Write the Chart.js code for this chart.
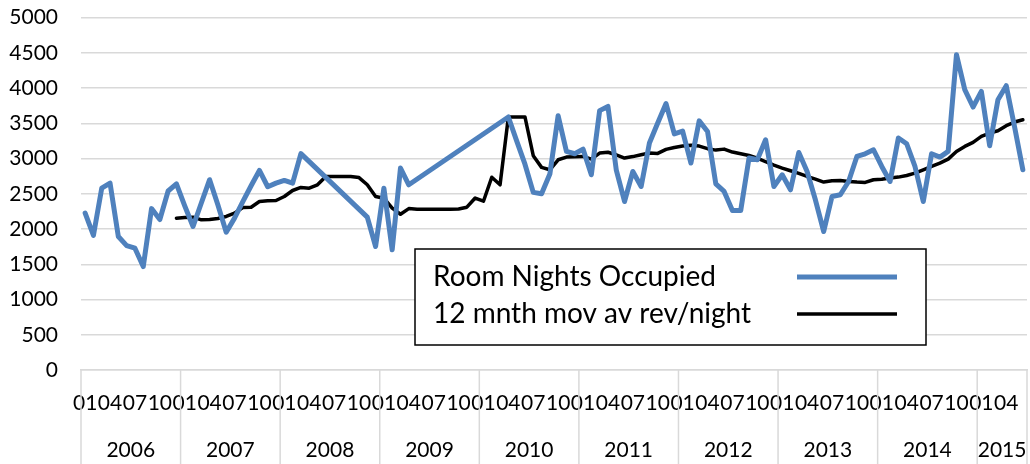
<!DOCTYPE html>
<html>
<head>
<meta charset="utf-8">
<script src="https://cdn.jsdelivr.net/npm/chart.js@4.4.1/dist/chart.umd.min.js"></script>
<style>
html,body{margin:0;padding:0;background:#fff;}
#wrap{width:1030px;height:464px;position:relative;}
</style>
</head>
<body>
<div id="wrap"><canvas id="c" width="1030" height="464"></canvas></div>
<script>
// ---------- data ----------
const years = ['2006','2007','2008','2009','2010','2011','2012','2013','2014','2015'];
const monthsPerYear = [12,12,12,12,12,12,12,12,12,6];
const monthTickLabels = ['01','04','07','10'];
const yTicks = [0,500,1000,1500,2000,2500,3000,3500,4000,4500,5000];

const roomNights = [
  2226,1910,2580,2652,1894,1765,1728,1468,2290,2135,2540,2640,
  2330,2036,2370,2700,2340,1955,2155,2390,2614,2831,2600,2651,
  2690,2651,3070,null,null,null,null,null,null,null,2169,1752,
  2580,1705,2865,2628,null,null,null,null,null,null,null,null,
  null,null,null,3590,3250,2920,2520,2500,2780,3608,3101,3068,
  3134,2770,3680,3740,2841,2391,2817,2604,3220,3504,3780,3350,
  3390,2936,3535,3385,2640,2533,2263,2263,3007,2983,3267,2604,
  2770,2557,3087,2817,2415,1965,2462,2486,2675,3030,3068,3125,
  2888,2675,3291,3210,2888,2391,3068,3021,3101,4474,3977,3731,
  3953,3182,3835,4034,3450,2841
];

const movAvg = [
  null,null,null,null,null,null,null,null,null,null,null,2154,
  2164,2168,2131,2135,2150,2178,2225,2306,2310,2391,2400,2405,
  2462,2547,2590,2580,2628,2746,2746,2746,2746,2730,2628,2462,
  2438,2296,2210,2290,2282,2282,2282,2282,2282,2285,2310,2440,
  2395,2735,2628,3590,3590,3590,3040,2875,2841,2983,3021,3025,
  3030,2992,3078,3090,3054,3007,3028,3054,3078,3073,3130,3158,
  3178,3190,3177,3140,3120,3134,3092,3068,3044,3007,2955,2907,
  2865,2827,2789,2746,2708,2666,2685,2689,2675,2666,2661,2699,
  2708,2723,2737,2760,2794,2841,2888,2936,2992,3101,3172,3229,
  3314,3362,3395,3466,3518,3551
];

// ---------- derived ----------
const categories = [];
years.forEach((y, k) => {
  for (let m = 1; m <= monthsPerYear[k]; m++) categories.push(String(m).padStart(2, '0'));
});
const yearStarts = [];
let acc = 0;
monthsPerYear.forEach(n => { yearStarts.push(acc); acc += n; });
const yearCenters = yearStarts.map((s, k) => s + (monthsPerYear[k] - 1) / 2);
const nCat = categories.length;

const FONT = 'Lato';
const tickFont = {family: FONT, size: 21};

function zeroPad(s) { s.paddingLeft = 0; s.paddingRight = 0; s.paddingTop = 0; s.paddingBottom = 0; }

// year separator lines below the plot
const yearSeparators = {
  id: 'yearSeparators',
  afterDraw(chart) {
    const xs = chart.scales.x2;
    const ctx = chart.ctx;
    const top = chart.chartArea.bottom;
    const bottom = chart.height;
    ctx.save();
    ctx.strokeStyle = '#d9d9d9';
    ctx.lineWidth = 1.5;
    const bounds = yearStarts.concat([nCat]);
    bounds.forEach(b => {
      const x = xs.getPixelForValue(b - 0.5);
      ctx.beginPath();
      ctx.moveTo(x, top);
      ctx.lineTo(x, bottom);
      ctx.stroke();
    });
    ctx.restore();
  }
};

// boxed legend inside the plot (text left, line sample right)
const boxLegend = {
  id: 'boxLegend',
  afterDraw(chart) {
    const ctx = chart.ctx;
    const box = {x: 415, y: 249, w: 511, h: 96};
    ctx.save();
    ctx.fillStyle = '#ffffff';
    ctx.fillRect(box.x, box.y, box.w, box.h);
    ctx.strokeStyle = '#000000';
    ctx.lineWidth = 1.5;
    ctx.strokeRect(box.x, box.y, box.w, box.h);
    const rows = [277, 314];
    chart.data.datasets.forEach((ds, i) => {
      const yy = rows[i];
      ctx.fillStyle = '#000';
      ctx.font = '28px ' + FONT;
      ctx.textAlign = 'left';
      ctx.textBaseline = 'middle';
      ctx.fillText(ds.label, 433, yy);
      ctx.strokeStyle = ds.borderColor;
      ctx.lineWidth = ds.borderWidth;
      ctx.lineCap = 'butt';
      ctx.beginPath();
      ctx.moveTo(797, yy);
      ctx.lineTo(897, yy);
      ctx.stroke();
    });
    ctx.restore();
  }
};

new Chart(document.getElementById('c'), {
  type: 'line',
  data: {
    labels: categories,
    datasets: [
      {
        label: 'Room Nights Occupied',
        data: roomNights,
        borderColor: '#4f81bd',
        backgroundColor: '#4f81bd',
        borderWidth: 5,
        pointRadius: 0,
        tension: 0,
        spanGaps: true,
        borderJoinStyle: 'round',
        borderCapStyle: 'round'
      },
      {
        label: '12 mnth mov av rev/night',
        data: movAvg,
        borderColor: '#000000',
        backgroundColor: '#000000',
        borderWidth: 3.5,
        pointRadius: 0,
        tension: 0,
        spanGaps: false,
        borderJoinStyle: 'round',
        borderCapStyle: 'round'
      }
    ]
  },
  options: {
    responsive: false,
    animation: false,
    devicePixelRatio: 1,
    layout: {padding: {top: 17.6, right: 3, left: 0, bottom: 0}},
    plugins: {legend: {display: false}, tooltip: {enabled: false}},
    scales: {
      x: {
        type: 'category',
        offset: true,
        weight: 0,
        grid: {display: false, drawTicks: false},
        border: {display: true, color: '#d9d9d9', width: 1.5},
        ticks: {
          autoSkip: false, maxRotation: 0, minRotation: 0,
          padding: 21, color: '#000', font: tickFont,
          callback: function(v) {
            const l = this.getLabelForValue(v);
            return monthTickLabels.includes(l) ? l : '';
          }
        },
        afterFit(s) { s.height = 47; zeroPad(s); }
      },
      x2: {
        type: 'linear',
        position: 'bottom',
        weight: 1,
        min: -0.5,
        max: nCat - 0.5,
        bounds: 'data',
        grid: {display: false, drawTicks: false},
        border: {display: false},
        ticks: {
          autoSkip: false, maxRotation: 0, minRotation: 0,
          padding: 21, color: '#000', font: tickFont,
          callback: function(v) {
            const k = yearCenters.indexOf(v);
            return k >= 0 ? years[k] : '';
          }
        },
        afterBuildTicks(s) { s.ticks = yearCenters.map(v => ({value: v})); },
        afterFit(s) { s.height = 47; zeroPad(s); }
      },
      y: {
        min: 0,
        max: 5000,
        grid: {color: '#d9d9d9', lineWidth: 1.5, drawTicks: false},
        border: {display: false},
        ticks: {
          padding: 23, color: '#000', font: tickFont,
          callback: v => String(v)
        },
        afterBuildTicks(s) { s.ticks = yTicks.map(v => ({value: v})); },
        afterFit(s) { s.width = 81; zeroPad(s); }
      }
    }
  },
  plugins: [yearSeparators, boxLegend]
});
</script>
</body>
</html>
